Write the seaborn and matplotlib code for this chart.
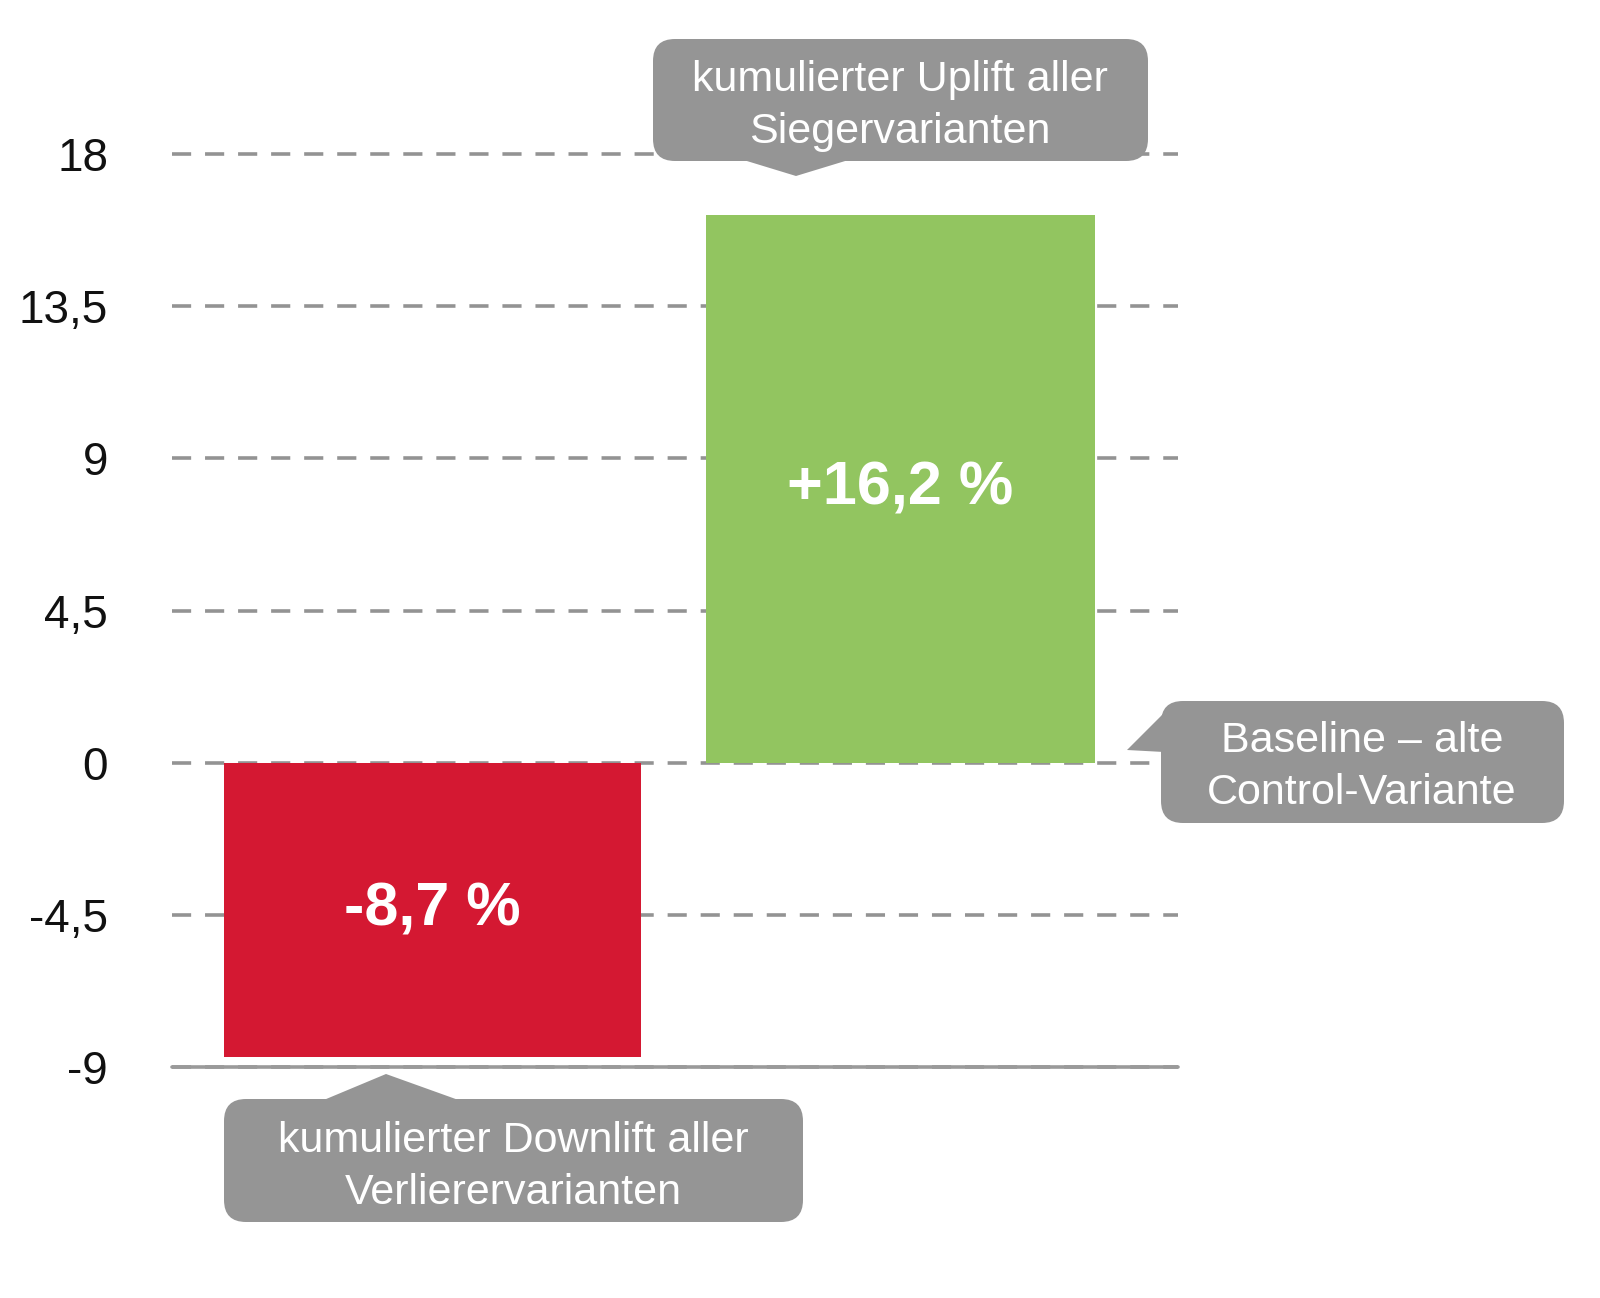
import numpy as np
import pandas as pd
import seaborn as sns
import matplotlib
matplotlib.use('Agg')
import matplotlib.pyplot as plt
from matplotlib.patches import FancyBboxPatch, Polygon

# data
kategorien = ['Verlierer', 'Sieger']
werte = [-8.7, 16.2]
bar_labels = ['-8,7 %', '+16,2 %']
y_ticks = [-9, -4.5, 0, 4.5, 9, 13.5, 18]
y_ticklabels = ['-9', '-4,5', '0', '4,5', '9', '13,5', '18']
farben = ['#D41832', '#92C560']

callout_oben = 'kumulierter Uplift aller\nSiegervarianten'
callout_rechts = 'Baseline \u2013 alte\nControl-Variante'
callout_unten = 'kumulierter Downlift aller\nVerlierervarianten'

sns.set_theme(style='white')
plt.rcParams['font.family'] = ['Liberation Sans', 'DejaVu Sans']

W, H = 1600, 1298
fig = plt.figure(figsize=(W / 100, H / 100), dpi=100)
fig.patch.set_facecolor('white')
ax = fig.add_axes([172 / W, 1 - 1067 / H, (1178 - 172) / W, (1067 - 154) / H])

df = pd.DataFrame({'kategorie': kategorien, 'wert': werte})
sns.barplot(data=df, x='kategorie', y='wert', hue='kategorie', palette=farben,
            saturation=1, width=0.86, legend=False, ax=ax, zorder=3)

# slightly different bar widths as in the original
for patch, w in zip(ax.patches, [0.89, 0.83]):
    c = patch.get_x() + patch.get_width() / 2
    patch.set_width(w)
    patch.set_x(c - w / 2)
    patch.set_linewidth(0)

for i, (v, lab) in enumerate(zip(werte, bar_labels)):
    ax.text(i, v / 2, lab, ha='center', va='center', color='white',
            fontsize=44, fontweight='bold', zorder=5)

ax.set_xlim(-0.557, 1.593)
ax.set_ylim(-9, 18)
ax.set_yticks(y_ticks)
ax.set_yticklabels(y_ticklabels, fontsize=33, color='#111111')
ax.set_xticks([])
ax.set_xlabel('')
ax.set_ylabel('')
ax.tick_params(axis='y', length=0, pad=46)
for s in ax.spines.values():
    s.set_visible(False)
ax.set_axisbelow(True)
ax.yaxis.grid(True, color='#939393', linewidth=2.6, linestyle=(0, (5.3, 3.85)))
for gl in ax.get_ygridlines():
    gl.set_clip_on(False)
ax.axhline(-9, color='#9a9a9a', linewidth=2.6, zorder=2, clip_on=False)
ax.set_facecolor('none')

# callouts in pixel coordinates
ov = fig.add_axes([0, 0, 1, 1], zorder=10)
ov.set_xlim(0, W)
ov.set_ylim(H, 0)
ov.axis('off')
ov.patch.set_alpha(0)
grau = '#959595'


def callout(x0, y0, x1, y1, spitze, text, cx, cy):
    box = FancyBboxPatch((x0, y0), x1 - x0, y1 - y0,
                         boxstyle='round,pad=0,rounding_size=22',
                         facecolor=grau, edgecolor='none')
    ov.add_patch(box)
    ov.add_patch(Polygon(spitze, closed=True, facecolor=grau, edgecolor='none'))
    ov.text(cx, cy, text, ha='center', va='center', color='white',
            fontsize=31, linespacing=1.38)


callout(653, 39, 1148, 161, [(737, 158), (796, 176), (855, 158)],
        callout_oben, 900, 106)
callout(1161, 701, 1564, 823, [(1164, 713), (1127, 750), (1164, 752)],
        callout_rechts, 1362, 767)
callout(224, 1099, 803, 1222, [(319, 1102), (386, 1074), (464, 1102)],
        callout_unten, 513, 1167)

fig.savefig('out.png', dpi=100, facecolor='white')
